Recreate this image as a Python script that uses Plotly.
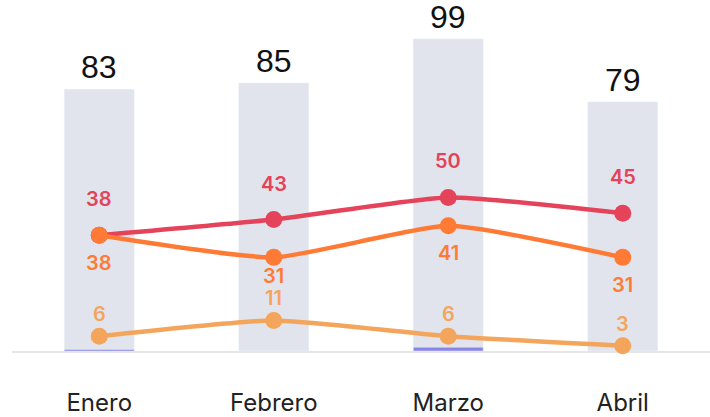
import plotly.graph_objects as go

months = ["Enero", "Febrero", "Marzo", "Abril"]
totals = [83, 85, 99, 79]
minor = [0.5, 0, 1.2, 0]
serie_roja = [38, 43, 50, 45]
serie_naranja = [38, 31, 41, 31]
serie_clara = [6, 11, 6, 3]

C_BAR = "#E1E4EC"
C_MINOR = "#8A84E6"
C_RED = "#E4435A"
C_ORANGE = "#FF7A35"
C_LIGHT = "#F4A55C"
FONT = "Inter"

fig = go.Figure()
fig.add_bar(x=months, y=totals, marker_color=C_BAR, width=0.4, hoverinfo="skip")
fig.add_bar(x=months, y=minor, marker_color=C_MINOR, width=0.4, hoverinfo="skip")

for vals, col in [(serie_clara, C_LIGHT), (serie_roja, C_RED), (serie_naranja, C_ORANGE)]:
    fig.add_scatter(x=months, y=vals, mode="lines+markers", yaxis="y2", cliponaxis=False,
                    line=dict(color=col, width=4.5, shape="spline", smoothing=0.5),
                    marker=dict(color=col, size=17))

ann = []
for m, t in zip(months, totals):
    ann.append(dict(x=m, y=t, text=str(t), showarrow=False, yanchor="middle", yshift=22,
                    font=dict(family="Liberation Sans", size=32, color="#111111")))
for m, v in zip(months, serie_roja):
    ann.append(dict(x=m, y=v, yref="y2", text=str(v), showarrow=False, yshift=36,
                    font=dict(family=FONT, size=20, color=C_RED, weight=600)))
shifts_o = [-28, -19, -27, -28]
for m, v, s in zip(months, serie_naranja, shifts_o):
    ann.append(dict(x=m, y=v, yref="y2", text=str(v), showarrow=False, yshift=s,
                    font=dict(family=FONT, size=20, color=C_ORANGE, weight=600)))
for m, v in zip(months, serie_clara):
    ann.append(dict(x=m, y=v, yref="y2", text=str(v), showarrow=False, yshift=22,
                    font=dict(family=FONT, size=20, color=C_LIGHT, weight=600)))

fig.update_layout(
    width=710, height=417, barmode="overlay", showlegend=False,
    plot_bgcolor="white", paper_bgcolor="white",
    margin=dict(l=12, r=0, t=20, b=63),
    annotations=ann,
    xaxis=dict(type="category", range=[-0.5, 3.5], showline=True, linecolor="#E6E6E6",
               linewidth=2, showgrid=False, ticks="outside", ticklen=29, layer="below traces",
               tickcolor="rgba(0,0,0,0)", tickfont=dict(family=FONT, size=24, color="#222222")),
    yaxis=dict(range=[0, 105], visible=False, showgrid=False),
    yaxis2=dict(range=[1.3, 106.3], overlaying="y", visible=False, showgrid=False),
)
fig.write_html("out.html", config={"displayModeBar": False},
               post_script="document.body.style.margin='0';document.body.style.overflow='hidden';")
